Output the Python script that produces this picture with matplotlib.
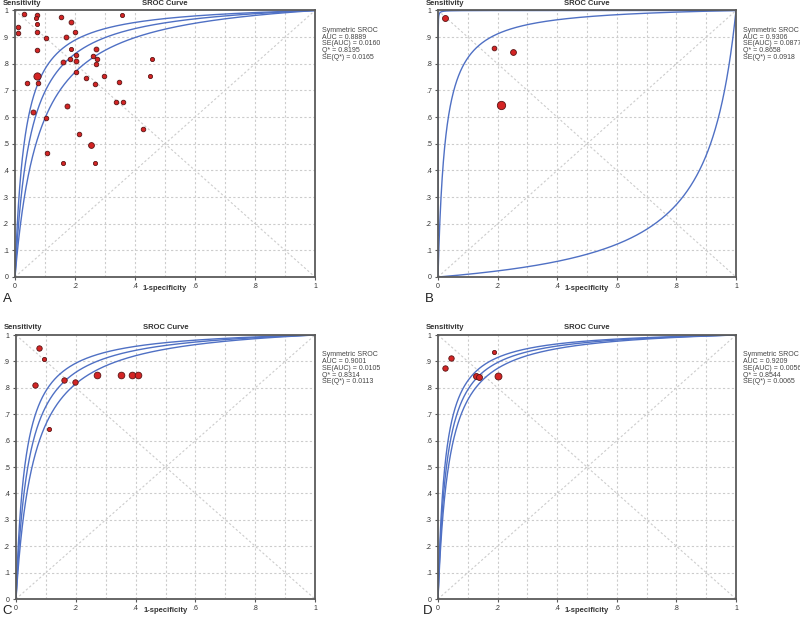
import numpy as np
import matplotlib
matplotlib.use('Agg')
import matplotlib.pyplot as plt

plt.rcParams['font.family'] = ['Liberation Sans', 'DejaVu Sans']

# study points per panel: (1-specificity, sensitivity, marker size)
fpr_a = [0.030, 0.072, 0.069, 0.011, 0.011, 0.072, 0.072, 0.152, 0.358, 0.187,
         0.103, 0.169, 0.201, 0.072, 0.187, 0.202, 0.161, 0.183, 0.202, 0.269,
         0.261, 0.274, 0.269, 0.456, 0.072, 0.039, 0.076, 0.203, 0.236, 0.297,
         0.268, 0.348, 0.451, 0.061, 0.173, 0.336, 0.359, 0.104, 0.428, 0.213,
         0.252, 0.108, 0.160, 0.266]
sens_a = [0.988, 0.984, 0.971, 0.938, 0.915, 0.950, 0.918, 0.975, 0.984, 0.955,
          0.896, 0.900, 0.918, 0.850, 0.856, 0.834, 0.806, 0.818, 0.811, 0.856,
          0.828, 0.819, 0.799, 0.819, 0.755, 0.728, 0.728, 0.769, 0.745, 0.755,
          0.725, 0.730, 0.756, 0.619, 0.642, 0.656, 0.655, 0.598, 0.557, 0.536,
          0.494, 0.465, 0.429, 0.429]
size_a = [3.3, 3.3, 3.0, 3.3, 3.3, 3.0, 3.3, 3.3, 3.0, 3.5,
          3.3, 3.5, 3.3, 3.3, 3.0, 3.3, 3.5, 3.3, 3.5, 3.5,
          3.3, 3.3, 3.3, 3.0, 5.2, 3.3, 3.3, 3.3, 3.3, 3.3,
          3.3, 3.3, 3.0, 3.6, 3.6, 3.3, 3.3, 3.3, 3.3, 3.3,
          4.2, 3.3, 3.0, 3.0]

fpr_b = [0.023, 0.187, 0.252, 0.212]
sens_b = [0.971, 0.858, 0.843, 0.645]
size_b = [4.3, 3.4, 4.2, 6.0]

fpr_c = [0.077, 0.093, 0.063, 0.109, 0.159, 0.196, 0.272, 0.352, 0.388, 0.407]
sens_c = [0.949, 0.909, 0.810, 0.644, 0.828, 0.823, 0.850, 0.850, 0.850, 0.850]
size_c = [3.9, 3.0, 3.9, 3.0, 3.9, 3.9, 4.8, 4.8, 4.8, 4.8]

fpr_d = [0.023, 0.042, 0.188, 0.128, 0.136, 0.203]
sens_d = [0.875, 0.913, 0.934, 0.846, 0.841, 0.846]
size_d = [3.9, 3.9, 3.0, 4.3, 4.3, 5.0]

# SROC statistics printed in each panel
auc = [0.8889, 0.9306, 0.9001, 0.9209]
se_auc = [0.0160, 0.0877, 0.0105, 0.0056]
q_star = [0.8195, 0.8658, 0.8314, 0.8544]
se_q = [0.0165, 0.0918, 0.0113, 0.0065]
# half width of the confidence band on the Moses-Littenberg D scale
band = [0.44, 6.1, 0.32, 0.22]

letters = ['A', 'B', 'C', 'D']
letter_x = [3, 425, 2, 423]
letter_y = [305, 305, 617.5, 617.5]
# axes rectangles in pixels: left, bottom, width, height
rects = [(15, 277, 300, 266.5), (438, 277, 298, 266.5),
         (16, 599, 299, 264), (438, 599, 298, 264)]
points = [(fpr_a, sens_a, size_a), (fpr_b, sens_b, size_b),
          (fpr_c, sens_c, size_c), (fpr_d, sens_d, size_d)]

W, H = 800, 618
fig = plt.figure(figsize=(8, 6.18), dpi=100)

curve_col = '#4f70c4'
grid_col = '#cccccc'
spine_col = '#5a5a5a'


def sroc(x, d):
    lx = np.log(x / (1 - x))
    return 1 / (1 + np.exp(-(d + lx)))


xx = np.linspace(1e-5, 1 - 1e-5, 2000)

for i in range(4):
    l, b, w, h = rects[i]
    ax = fig.add_axes([l / W, (H - b) / H, w / W, h / H])
    ax.set_xlim(0, 1)
    ax.set_ylim(0, 1)

    # dashed grid and diagonals
    for g in np.arange(0.1, 1.0, 0.1):
        ax.axvline(g, color=grid_col, lw=0.8, ls=(0, (2, 2)), zorder=0)
        ax.axhline(g, color=grid_col, lw=0.8, ls=(0, (2, 2)), zorder=0)
    ax.plot([0, 1], [0, 1], color=grid_col, lw=0.8, ls=(0, (2, 2)), zorder=0)
    ax.plot([0, 1], [1, 0], color=grid_col, lw=0.8, ls=(0, (2, 2)), zorder=0)

    d = 2 * np.log(q_star[i] / (1 - q_star[i]))
    for dd in [d - band[i], d, d + band[i]]:
        ax.plot(xx, sroc(xx, dd), color=curve_col, lw=1.0, zorder=2)

    px, py, ps = points[i]
    for x, y, s in zip(px, py, ps):
        ax.plot(x, y, 'o', ms=s, mfc='#d42424', mec='#5a1515', mew=0.6,
                zorder=3, clip_on=False)

    for sp in ax.spines.values():
        sp.set_color(spine_col)
        sp.set_linewidth(1.3)
        sp.set_zorder(4)

    ax.set_xticks([0, 0.2, 0.4, 0.6, 0.8, 1.0])
    ax.set_xticklabels(['0', '.2', '.4', '.6', '.8', '1'])
    ax.set_yticks(np.round(np.arange(0, 1.01, 0.1), 1))
    ax.set_yticklabels(['0', '.1', '.2', '.3', '.4', '.5', '.6', '.7', '.8', '.9', '1'])
    ax.tick_params(labelsize=5, length=2.5, width=0.8, color=spine_col,
                   labelcolor='#333333', pad=2)

    ax.text(-0.04, 1.028, 'Sensitivity', transform=ax.transAxes, fontsize=5.5,
            fontweight='bold', color='#333333', ha='left', va='center')
    ax.text(0.5, 1.028, 'SROC Curve', transform=ax.transAxes, fontsize=5.5,
            fontweight='bold', color='#333333', ha='center', va='center')
    ax.text(0.5, -0.042, '1-specificity', transform=ax.transAxes, fontsize=5.5,
            fontweight='bold', color='#333333', ha='center', va='center')

    info = ['Symmetric SROC',
            'AUC = %.4f' % auc[i],
            'SE(AUC) = %.4f' % se_auc[i],
            'Q* = %.4f' % q_star[i],
            'SE(Q*) = %.4f' % se_q[i]]
    tx = (l + w + 7) / W
    for k, line in enumerate(info):
        fig.text(tx, 1 - (b - h + 20 + k * 6.7) / H, line, fontsize=5,
                 color='#444444', ha='left', va='center')

    fig.text(letter_x[i] / W, 1 - letter_y[i] / H, letters[i], fontsize=9.5,
             color='#222222', ha='left', va='bottom')

fig.savefig('out.png', dpi=100)
